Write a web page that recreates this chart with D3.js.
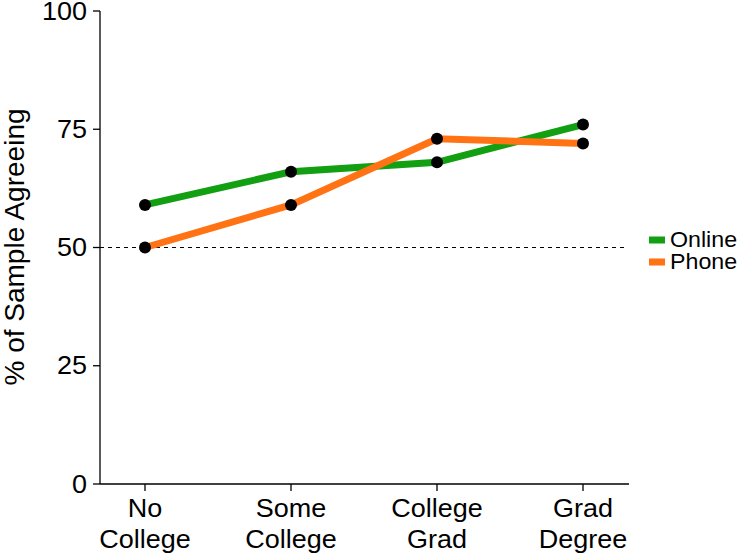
<!DOCTYPE html>
<html><head><meta charset="utf-8">
<script src="https://cdn.jsdelivr.net/npm/d3@7"></script>
<style>body{margin:0;background:#fff}svg{display:block}text{font-family:"Liberation Sans",Arial,sans-serif;fill:#000}</style>
</head><body><svg id="c" width="740" height="557"></svg>
<script>
const categories = [["No","College"],["Some","College"],["College","Grad"],["Grad","Degree"]];
const online = [59, 66, 68, 76];
const phone = [50, 59, 73, 72];
const yTicks = [0, 25, 50, 75, 100];
const refLine = 50;
const seriesNames = ["Online", "Phone"];
const colors = ["#12a012", "#ff7314"];

const SX = 1.08;
const svg = d3.select("#c");
const x = d3.scalePoint().domain(d3.range(categories.length)).range([145, 583]);
const y = d3.scaleLinear().domain([0, 100]).range([484, 11]);
const xAxisEnd = 629, yAxisX = 100;

// axes
svg.append("line").attr("x1", yAxisX).attr("x2", yAxisX).attr("y1", y(100)).attr("y2", y(0)).attr("stroke", "#000").attr("stroke-width", 1.3);
svg.append("line").attr("x1", yAxisX).attr("x2", xAxisEnd).attr("y1", y(0)).attr("y2", y(0)).attr("stroke", "#000").attr("stroke-width", 1.3);
yTicks.forEach(t => {
  svg.append("line").attr("x1", yAxisX - 7).attr("x2", yAxisX).attr("y1", y(t)).attr("y2", y(t)).attr("stroke", "#000").attr("stroke-width", 1.3);
  svg.append("g").attr("transform", `translate(${yAxisX - 13},${y(t)}) scale(${SX},1)`)
    .append("text").attr("text-anchor", "end").attr("dominant-baseline", "central").attr("font-size", 25).text(t);
});
categories.forEach((c, i) => {
  svg.append("line").attr("x1", x(i)).attr("x2", x(i)).attr("y1", y(0)).attr("y2", y(0) + 7).attr("stroke", "#000").attr("stroke-width", 1.3);
  c.forEach((s, j) => {
    svg.append("g").attr("transform", `translate(${x(i)},${517 + j * 31}) scale(${SX},1)`)
      .append("text").attr("text-anchor", "middle").attr("font-size", 25).text(s);
  });
});
// y title
svg.append("g").attr("transform", `translate(24,247) rotate(-90)`)
  .append("text").attr("text-anchor", "middle").attr("font-size", 28).text("% of Sample Agreeing");

// reference line
svg.append("line").attr("x1", yAxisX).attr("x2", 625).attr("y1", y(refLine)).attr("y2", y(refLine))
  .attr("stroke", "#000").attr("stroke-width", 1).attr("stroke-dasharray", "4,4");

// lines
const line = d3.line().x((d, i) => x(i)).y(d => y(d));
[online, phone].forEach((s, k) => {
  svg.append("path").datum(s).attr("d", line).attr("fill", "none").attr("stroke", colors[k]).attr("stroke-width", 7);
});
[online, phone].forEach(s => {
  svg.selectAll(null).data(s).enter().append("circle").attr("cx", (d, i) => x(i)).attr("cy", d => y(d)).attr("r", 6).attr("fill", "#000");
});

// legend
seriesNames.forEach((n, k) => {
  const cy = 240 + k * 22;
  svg.append("rect").attr("x", 649).attr("y", cy - 3.5).attr("width", 16).attr("height", 7).attr("fill", colors[k]);
  svg.append("g").attr("transform", `translate(670,${cy}) scale(${SX},1)`)
    .append("text").attr("dominant-baseline", "central").attr("font-size", 21.5).text(n);
});
</script></body></html>
